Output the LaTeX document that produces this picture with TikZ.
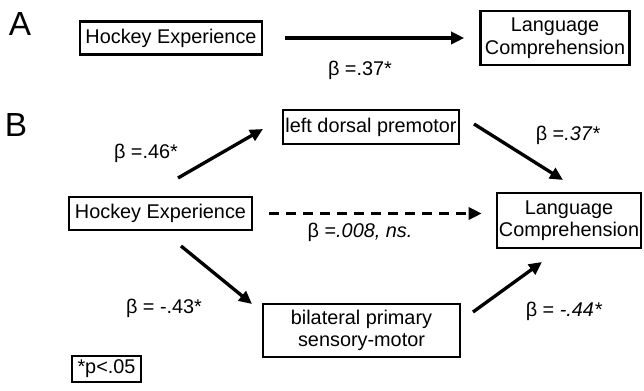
\documentclass[tikz,border=0pt]{standalone}
\usepackage{fontspec}
\setmainfont{Liberation Sans}
\usetikzlibrary{arrows.meta, calc}

\begin{document}
\begin{tikzpicture}[x=0.02cm, y=-0.02cm,
        box/.style={draw, line width=1.5pt, inner sep=0pt, align=center, font=\fontsize{11.3}{12.8}\selectfont},
        path/.style={line width=1.9pt, -{Triangle[length=0.26cm, width=0.24cm]}},
        lbl/.style={font=\fontsize{11.3}{12.8}\selectfont}]
        \useasboundingbox (0,0) rectangle (644,391);

        % A
        \node[font=\fontsize{19}{21}\selectfont] (labA) at (20,24) {A};
        \node[box, minimum width=3.64cm, minimum height=0.66cm] (heA) at (171,38) {Hockey Experience};
        \node[box, minimum width=2.98cm, minimum height=1.08cm] (lcA) at (555,38) {Language\\Comprehension};
        \draw[path, shorten <=0.44cm, shorten >=0.3cm] (heA) -- (lcA);
        \node[lbl] (bA) at (360,70) {β =.37*};

        % B
        \node[font=\fontsize{19}{21}\selectfont] (labB) at (16,125) {B};
        \node[box, minimum width=3.52cm, minimum height=0.68cm] (dpm) at (371,127) {left dorsal premotor};
        \node[box, minimum width=3.66cm, minimum height=0.66cm] (heB) at (160.5,213.5) {Hockey Experience};
        \node[box, minimum width=2.88cm, minimum height=1.1cm] (lcB) at (569,220.5) {Language\\Comprehension};
        \node[box, minimum width=3.94cm, minimum height=1.06cm] (bpsm) at (361.5,330.5) {bilateral primary\\sensory-motor};
        \node[box, minimum width=1.38cm, minimum height=0.52cm] (pbox) at (106.5,369) {*p<.05};

        \coordinate (up1) at (178,178);
        \coordinate (up2) at (263,129);
        \coordinate (dn1) at (181,246);
        \coordinate (dn2) at (252,304);
        \coordinate (pm1) at (474,124);
        \coordinate (pm2) at (563,180);
        \coordinate (bp1) at (473,312);
        \coordinate (bp2) at (542,262);

        \draw[path] (up1) -- (up2);
        \draw[path] (dn1) -- (dn2);
        \draw[path] (pm1) -- (pm2);
        \draw[path] (bp1) -- (bp2);
        \draw[path, dash pattern=on 0.2cm off 0.14cm] ([xshift=0.32cm]heB.east) -- ([xshift=-0.28cm]heB.east -| lcB.west);

        \node[lbl] (b1) at (146,153) {β =.46*};
        \node[lbl] (b2) at (164,308) {β = -.43*};
        \node[lbl] (b3) at (568,135) {β =\textit{.37*}};
        \node[lbl] (b4) at (360,232) {β =\textit{.008, ns.}};
        \node[lbl] (b5) at (564,311) {β = \textit{-.44*}};
\end{tikzpicture}
\end{document}
